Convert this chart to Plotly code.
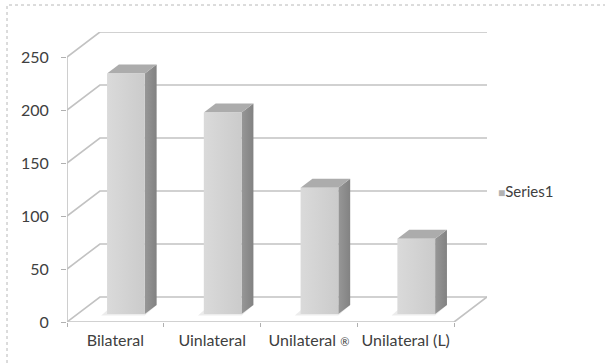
import plotly.graph_objects as go

categories = ["Bilateral", "Uinlateral", "Unilateral \u00ae", "Unilateral (L)"]
tick_labels = ["Bilateral", "Uinlateral",
               "Unilateral <span style='font-size:11px'>\u00ae</span>", "Unilateral (L)"]
values = [227, 190, 119, 71]
y_ticks = [0, 50, 100, 150, 200, 250]
series_name = "Series1"

# 3-D projection settings (depth offset of the back wall in axis units)
DX = 0.34
DY = 23.6
F1, F2 = 0.32, 0.68   # front / back depth fraction of each bar
BAR_W = 0.39

W, H = 605, 364
ML, MR, MT, MB = 67, 118, 32, 42
PW, PH = W - ML - MR, H - MT - MB

fig = go.Figure()

# back-wall gridlines with the diagonal on the left side wall
gx, gy = [], []
for v in y_ticks:
    gx += [0, DX, len(categories) + DX, None]
    gy += [v, v + DY, v + DY, None]
# floor front and right edge + front value axis
gx += [0, len(categories), len(categories) + DX, None, 0, 0]
gy += [0, 0, DY, None, 0, max(y_ticks)]
fig.add_trace(go.Scatter(x=gx, y=gy, mode="lines", line=dict(color="#c2c2c2", width=1.6),
                         hoverinfo="skip", showlegend=False))

ddx, ddy = (F2 - F1) * DX, (F2 - F1) * DY
for i, v in enumerate(values):
    c = i + 0.5
    x0 = c - BAR_W / 2 + F1 * DX
    x1 = x0 + BAR_W
    y0 = F1 * DY
    y1 = v + F1 * DY
    # soft shadow on the floor
    fig.add_trace(go.Scatter(
        x=[x0 - 0.06, x1, x1 + ddx, x0 + ddx - 0.06, x0 - 0.06],
        y=[y0 - 1.5, y0 - 1.5, y0 + ddy, y0 + ddy, y0 - 1.5],
        fill="toself", fillcolor="rgba(200,200,200,0.35)", mode="none",
        hoverinfo="skip", showlegend=False))
    # side face
    fig.add_trace(go.Scatter(
        x=[x1, x1 + ddx, x1 + ddx, x1, x1],
        y=[y0, y0 + ddy, y1 + ddy, y1, y0],
        fill="toself", mode="none",
        fillgradient=dict(type="horizontal", colorscale=[[0, "#979797"], [1, "#828282"]]),
        hoverinfo="skip", showlegend=False))
    # top face
    fig.add_trace(go.Scatter(
        x=[x0, x1, x1 + ddx, x0 + ddx, x0],
        y=[y1, y1, y1 + ddy, y1 + ddy, y1],
        fill="toself", fillcolor="#acacac", mode="none",
        hoverinfo="skip", showlegend=False))
    # front face
    fig.add_trace(go.Scatter(
        x=[x0, x1, x1, x0, x0],
        y=[y0, y0, y1, y1, y0],
        fill="toself", mode="none",
        fillgradient=dict(type="horizontal", colorscale=[[0, "#dadada"], [1, "#cbcbcb"]]),
        name=series_name, text=[f"{categories[i]}: {v}"] * 5, hoverinfo="text",
        showlegend=False))

font = dict(family="Lato, 'Open Sans', sans-serif", size=16, color="#404040")

# legend (series key) placed to the right of the plot
legend_text = (f"<span style='color:#b2b2b2;font-size:12px'>\u25a0</span>"
               f"<span style='font-size:15px'>{series_name}</span>")

fig.update_layout(
    width=W, height=H,
    margin=dict(l=ML, r=MR, t=MT, b=MB, pad=0),
    paper_bgcolor="white", plot_bgcolor="white",
    font=font,
    showlegend=False,
    annotations=[dict(text=legend_text, xref="paper", yref="paper",
                      x=(496 - ML) / PW, y=(322 - 191) / PH,
                      xanchor="left", yanchor="middle", showarrow=False, font=font)],
    xaxis=dict(range=[0, len(categories) + DX], showgrid=False, zeroline=False, showline=False,
               tickmode="array", tickvals=[i + 0.5 for i in range(len(categories))],
               ticktext=tick_labels, ticks="", ticklabelstandoff=7,
               minor=dict(tickmode="array", tickvals=list(range(len(categories) + 1)),
                          ticks="outside", ticklen=4, tickcolor="#b0b0b0", showgrid=False)),
    yaxis=dict(range=[0, max(y_ticks) + DY], showgrid=False, zeroline=False, showline=False,
               tickmode="array", tickvals=y_ticks, ticks="outside", ticklen=5,
               tickcolor="#b0b0b0", ticklabelstandoff=9),
    shapes=[dict(type="rect", xref="paper", yref="paper",
                 x0=(7 - ML) / PW, x1=(640 - ML) / PW,
                 y0=(322 - 400) / PH, y1=(322 - 5) / PH,
                 line=dict(color="#b8b8b8", width=1, dash="dot"), layer="below")],
)

fig.write_html("out.html")
